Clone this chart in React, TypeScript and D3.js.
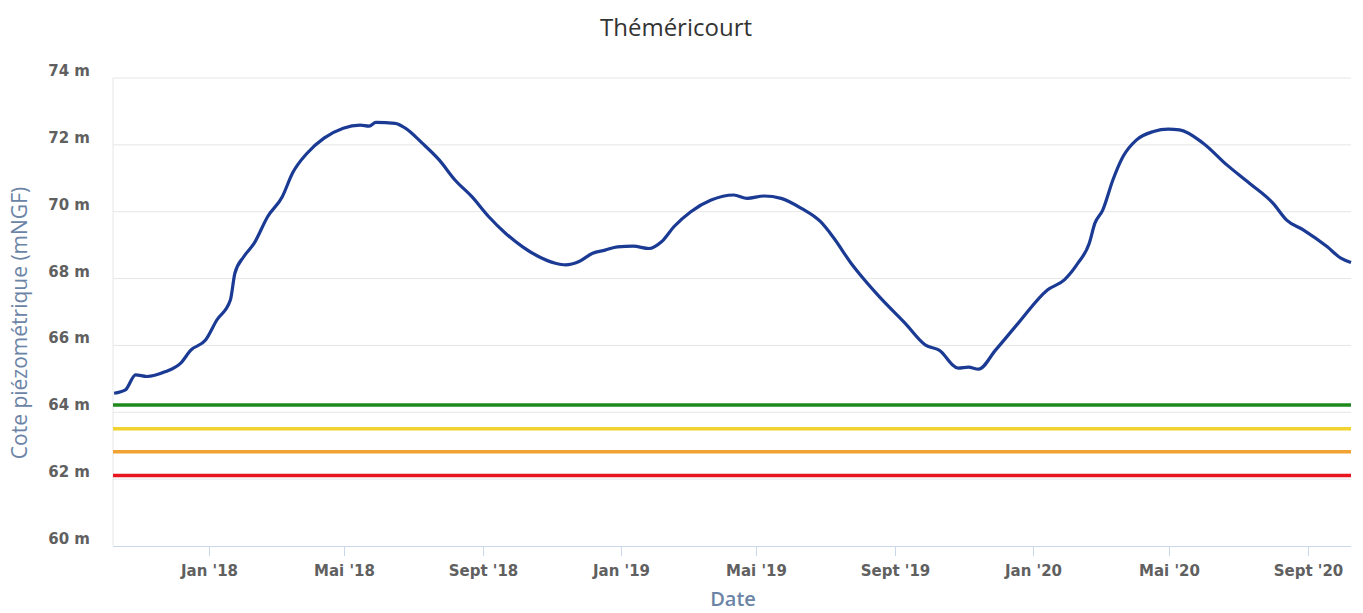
import React from "react";
import * as d3 from "d3";

const title = "Théméricourt";
const yAxisTitle = "Cote piézométrique (mNGF)";
const xAxisTitle = "Date";

const dates = [
  "2017-10-09", "2017-10-19", "2017-10-28", "2017-11-07", "2017-11-23", "2017-12-07", "2017-12-16", "2017-12-29",
  "2018-01-08", "2018-01-20", "2018-01-24", "2018-02-01", "2018-02-10", "2018-02-22", "2018-03-07", "2018-03-16",
  "2018-03-29", "2018-04-13", "2018-04-30", "2018-05-15", "2018-05-23", "2018-05-29", "2018-06-15", "2018-06-24",
  "2018-07-09", "2018-07-24", "2018-08-07", "2018-08-22", "2018-09-06", "2018-09-21", "2018-10-06", "2018-10-20",
  "2018-11-04", "2018-11-13", "2018-11-25", "2018-12-07", "2018-12-18", "2018-12-29", "2019-01-12", "2019-01-26",
  "2019-02-06", "2019-02-17", "2019-03-04", "2019-03-22", "2019-04-11", "2019-04-23", "2019-05-08", "2019-05-23",
  "2019-06-10", "2019-06-27", "2019-07-09", "2019-07-24", "2019-07-31", "2019-08-18", "2019-09-10", "2019-09-28",
  "2019-10-10", "2019-10-27", "2019-11-05", "2019-11-14", "2019-11-29", "2019-12-19", "2020-01-14", "2020-01-29",
  "2020-02-10", "2020-02-20", "2020-02-25", "2020-03-03", "2020-03-12", "2020-03-21", "2020-04-02", "2020-04-17",
  "2020-04-30", "2020-05-10", "2020-05-31", "2020-06-21", "2020-07-11", "2020-08-01", "2020-08-13", "2020-08-28",
  "2020-09-18", "2020-09-30", "2020-10-09",
];

const levels = [
  64.57, 64.67, 65.12, 65.07, 65.21, 65.47, 65.86, 66.16,
  66.76, 67.36, 68.16, 68.66, 69.05, 69.85, 70.45, 71.15,
  71.75, 72.2, 72.5, 72.59, 72.56, 72.67, 72.64, 72.5,
  72.05, 71.55, 70.95, 70.45, 69.85, 69.35, 68.95, 68.66,
  68.46, 68.41, 68.51, 68.76, 68.85, 68.95, 68.97, 68.9,
  69.1, 69.55, 70.0, 70.35, 70.5, 70.4, 70.47, 70.4,
  70.1, 69.7, 69.2, 68.46, 68.16, 67.46, 66.66, 66.01,
  65.86, 65.32, 65.35, 65.29, 65.86, 66.66, 67.66, 67.96,
  68.46, 69.05, 69.65, 70.05, 70.95, 71.65, 72.15, 72.4,
  72.47, 72.45, 72.05, 71.4, 70.85, 70.25, 69.75, 69.45,
  68.95, 68.61, 68.48,
];

const thresholdValues = [64.22, 63.51, 62.82, 62.11];
const thresholdColors = ["#1e8a1e", "#f2d22e", "#f0a332", "#e8151e"];

const yTicks = [60, 62, 64, 66, 68, 70, 72, 74];
const xTickDates = ["2018-01-01", "2018-05-01", "2018-09-01", "2019-01-01", "2019-05-01", "2019-09-01", "2020-01-01", "2020-05-01", "2020-09-01"];
const xTickLabels = ["Jan '18", "Mai '18", "Sept '18", "Jan '19", "Mai '19", "Sept '19", "Jan '20", "Mai '20", "Sept '20"];

const W = 1363;
const H = 613;
const left = 113;
const right = 1351;
const top = 78;
const bottom = 546;

export default function App() {
  const parse = d3.utcParse("%Y-%m-%d");
  const data = dates.map((d, i) => ({ date: parse(d) as Date, v: levels[i] }));
  const x = d3
    .scaleUtc()
    .domain([parse("2017-10-08") as Date, parse("2020-10-09") as Date])
    .range([left, right]);
  const y = d3.scaleLinear().domain([60, 74]).range([bottom, top]);
  const line = d3
    .line<{ date: Date; v: number }>()
    .x((d) => x(d.date))
    .y((d) => y(d.v))
    .curve(d3.curveMonotoneX);

  const font = "'Open Sans', 'DejaVu Sans', sans-serif";
  const labelFont = "'DejaVu Sans', sans-serif";

  return (
    <svg
      width={W}
      height={H}
      style={{ position: "absolute", left: 0, top: 0, background: "#fff" }}
      fontFamily={font}
    >
      <rect x={0} y={0} width={W} height={H} fill="#fff" />
      <text x={676} y={36} textAnchor="middle" fontSize={24} fill="#333">
        {title}
      </text>

      {yTicks.map((t) => (
        <g key={t}>
          {t !== 60 && (
            <line x1={left} x2={right} y1={y(t)} y2={y(t)} stroke="#e6e6e6" strokeWidth={1} />
          )}
          <text
            x={90}
            y={y(t) - 2}
            textAnchor="end"
            fontSize={15}
            fontWeight="bold"
            fill="#606060"
            fontFamily={labelFont}
          >
            {`${t} m`}
          </text>
        </g>
      ))}

      <line x1={left} x2={left} y1={top} y2={bottom} stroke="#e6e6e6" strokeWidth={1} />
      <line x1={left} x2={right} y1={bottom + 0.5} y2={bottom + 0.5} stroke="#ccd6eb" strokeWidth={1} />

      {xTickDates.map((d, i) => {
        const px = Math.round(x(parse(d) as Date)) + 0.5;
        return (
          <g key={d}>
            <line x1={px} x2={px} y1={bottom} y2={bottom + 10} stroke="#ccd6eb" strokeWidth={1} />
            <text
              x={px}
              y={576}
              textAnchor="middle"
              fontSize={15}
              fontWeight="bold"
              fill="#606060"
              fontFamily={labelFont}
            >
              {xTickLabels[i]}
            </text>
          </g>
        );
      })}

      {thresholdValues.map((v, i) => (
        <line
          key={v}
          x1={left}
          x2={right}
          y1={y(v)}
          y2={y(v)}
          stroke={thresholdColors[i]}
          strokeWidth={3.5}
        />
      ))}

      <path d={line(data) || ""} fill="none" stroke="#1a3a94" strokeWidth={3.2} strokeLinejoin="round" />

      <text
        transform={`translate(27, 323) rotate(-90)`}
        textAnchor="middle"
        fontSize={21}
        fill="#6b84a6"
      >
        {yAxisTitle}
      </text>
      <text x={733} y={606} textAnchor="middle" fontSize={20} fontWeight="600" fill="#6b84a6">
        {xAxisTitle}
      </text>
    </svg>
  );
}
